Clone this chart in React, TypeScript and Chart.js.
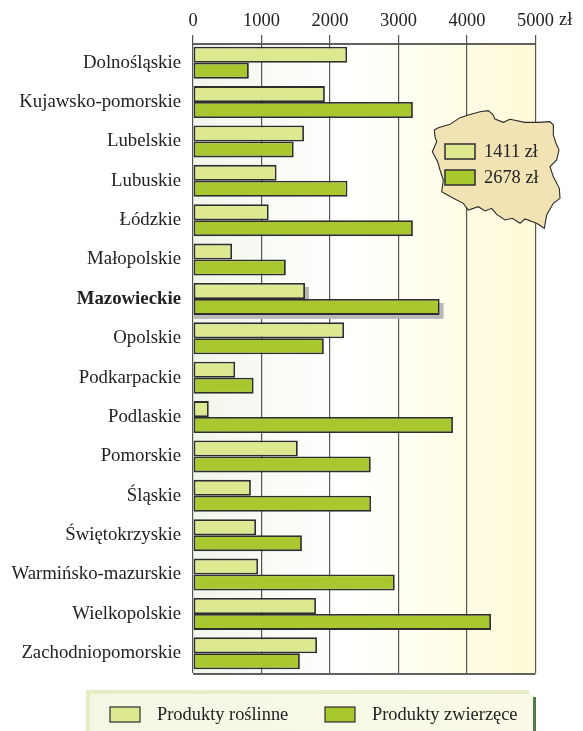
import React, { useEffect, useRef } from "react";
import { Chart, registerables } from "chart.js";

Chart.register(...registerables);

const categories = ["Dolnośląskie", "Kujawsko-pomorskie", "Lubelskie", "Lubuskie", "Łódzkie", "Małopolskie", "Mazowieckie", "Opolskie", "Podkarpackie", "Podlaskie", "Pomorskie", "Śląskie", "Świętokrzyskie", "Warmińsko-mazurskie", "Wielkopolskie", "Zachodniopomorskie"];
const roslinne = [2250, 1925, 1620, 1220, 1105, 570, 1635, 2205, 615, 230, 1530, 845, 920, 950, 1795, 1810];
const zwierzece = [815, 3210, 1470, 2255, 3210, 1355, 3600, 1910, 885, 3795, 2595, 2600, 1590, 2945, 4350, 1560];
const seriesNames = ["Produkty roślinne", "Produkty zwierzęce"];
const averages = ["1411 zł", "2678 zł"];
const highlighted = "Mazowieckie";
const LIGHT = "#dde891";
const DARK = "#a9c82f";
const LINE = "#2e2e2e";
const FONT = '"Liberation Serif"';
const SIZE = 18.4;
const mapOutline: number[][] = [[28,75],[40,68],[75,58],[105,38],[130,30],[165,20],[190,17],[203,28],[210,42],[235,52],[255,43],[300,52],[340,52],[375,50],[385,60],[385,90],[393,115],[402,135],[395,165],[375,185],[385,215],[403,250],[405,280],[385,295],[365,330],[358,370],[335,355],[300,342],[285,355],[262,340],[240,345],[215,328],[200,310],[180,318],[160,305],[130,315],[115,295],[85,280],[50,260],[55,225],[45,195],[38,170],[22,140],[35,110],[30,95]];

const decor = {
  id: "decor",
  beforeDraw(chart: any) {
    const { ctx, chartArea: a } = chart;
    const g = ctx.createLinearGradient(a.left, 0, a.right, 0);
    g.addColorStop(0, "#f1f6ea");
    g.addColorStop(0.42, "#ffffff");
    g.addColorStop(0.55, "#fffff8");
    g.addColorStop(1, "#fffad6");
    ctx.fillStyle = g;
    ctx.fillRect(a.left, a.top + 1, a.right - a.left, a.bottom - a.top);
    ctx.strokeStyle = LINE;
    ctx.lineWidth = 1.5;
    ctx.beginPath();
    ctx.moveTo(a.left, a.bottom + 1);
    ctx.lineTo(a.right, a.bottom + 1);
    ctx.moveTo(a.left, a.top + 1);
    ctx.lineTo(a.right, a.top + 1);
    ctx.stroke();
  },
  afterDatasetsDraw(chart: any) {
    const { ctx } = chart;
    ctx.save();
    ctx.beginPath();
    mapOutline.forEach(([x, y], i) => {
      const px = 425 + x / 3, py = 105 + y / 3;
      if (i) ctx.lineTo(px, py); else ctx.moveTo(px, py);
    });
    ctx.closePath();
    ctx.fillStyle = "#f1e3b4";
    ctx.fill();
    ctx.strokeStyle = "#2a2a2a";
    ctx.lineWidth = 1.1;
    ctx.stroke();
    ctx.textAlign = "left";
    ctx.textBaseline = "middle";
    [LIGHT, DARK].forEach((c, i) => {
      const y = 144 + i * 26;
      ctx.fillStyle = c;
      ctx.fillRect(445, y, 30, 15);
      ctx.strokeStyle = LINE;
      ctx.lineWidth = 1.5;
      ctx.strokeRect(445, y, 30, 15);
      ctx.fillStyle = "#222";
      ctx.font = `${SIZE}px ${FONT}`;
      ctx.fillText(averages[i], 484, y + 8);
    });
    ctx.fillStyle = "#222";
    ctx.font = `${SIZE}px ${FONT}`;
    ctx.fillText("zł", 559, 20);
    const g = ctx.createLinearGradient(87, 0, 529, 0);
    g.addColorStop(0, "#f4f6e4");
    g.addColorStop(1, "#fbfae8");
    ctx.fillStyle = "#e6edc6";
    ctx.fillRect(86, 690, 443, 41);
    ctx.fillStyle = g;
    ctx.fillRect(90, 694, 443, 37);
    ctx.fillStyle = "#4f7d47";
    ctx.fillRect(533, 697, 3, 34);
    [LIGHT, DARK].forEach((c, i) => {
      const x = i ? 325 : 110;
      ctx.fillStyle = c;
      ctx.fillRect(x, 707, 30, 15);
      ctx.strokeStyle = LINE;
      ctx.lineWidth = 1.2;
      ctx.strokeRect(x, 707, 30, 15);
      ctx.fillStyle = "#222";
      ctx.font = `${SIZE}px ${FONT}`;
      ctx.fillText(seriesNames[i], x + 47, 715);
    });
    ctx.restore();
  },
};

const shadow = {
  id: "shadow",
  beforeDatasetsDraw(chart: any) {
    const { ctx } = chart;
    const idx = categories.indexOf(highlighted);
    ctx.save();
    ctx.fillStyle = "#b8b8b8";
    chart.data.datasets.forEach((_: any, d: number) => {
      const b = chart.getDatasetMeta(d).data[idx];
      ctx.fillRect(b.base, b.y - b.height / 2 + 4, b.x - b.base + 4, b.height);
    });
    ctx.restore();
  },
};

export default function App() {
  const ref = useRef<HTMLCanvasElement>(null);
  useEffect(() => {
    document.body.style.margin = "0";
    const chart = new Chart(ref.current!, {
      type: "bar",
      data: {
        labels: categories,
        datasets: [
          { label: seriesNames[0], data: roslinne, backgroundColor: LIGHT, borderColor: LINE, borderWidth: 1.8, borderSkipped: false, categoryPercentage: 0.81, barPercentage: 1 },
          { label: seriesNames[1], data: zwierzece, backgroundColor: DARK, borderColor: LINE, borderWidth: 1.8, borderSkipped: false, categoryPercentage: 0.81, barPercentage: 1 },
        ],
      },
      options: {
        indexAxis: "y",
        animation: false,
        responsive: false,
        layout: { padding: { left: 0, right: 47.5, top: 0, bottom: 58 } },
        plugins: { legend: { display: false }, tooltip: { enabled: false } },
        scales: {
          x: {
            position: "top",
            min: 0,
            max: 5000,
            afterFit: (s: any) => { s.height = 43; },
            ticks: { stepSize: 1000, color: "#222", font: { family: FONT, size: SIZE }, padding: 3, maxRotation: 0, callback: (v: any) => String(v) },
            grid: { color: "#555", lineWidth: 1.2, tickLength: 8, drawTicks: true },
            border: { display: false },
          },
          y: {
            afterFit: (s: any) => { s.width = 193; },
            ticks: {
              color: "#222",
              padding: 4,
              autoSkip: false,
              font: (c: any) => ({ family: FONT, size: 18.8, weight: categories[c.index] === highlighted ? "bold" : "normal" }),
            },
            grid: { display: false },
            border: { display: false },
          },
        },
      },
      plugins: [decor, shadow],
    } as any);
    return () => chart.destroy();
  }, []);
  return <canvas ref={ref} width={583} height={731} style={{ display: "block" }} />;
}
